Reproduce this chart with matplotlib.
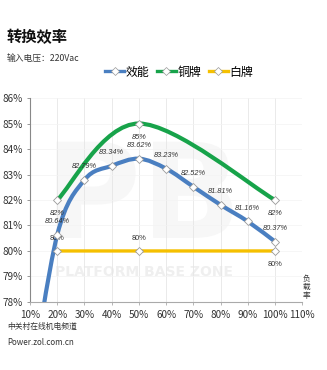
import numpy as np
import matplotlib
matplotlib.use("Agg")
import matplotlib.pyplot as plt
from matplotlib.path import Path
from matplotlib.patches import PathPatch
from matplotlib.lines import Line2D
from matplotlib.textpath import TextPath
from matplotlib.font_manager import FontProperties
from matplotlib.transforms import Affine2D

plt.rcParams["font.family"] = ["Noto Sans CJK SC", "DejaVu Sans"]

# data
load_eff = [10, 20, 30, 40, 50, 60, 70, 80, 90, 100]
eff = [74.5, 80.64, 82.79, 83.34, 83.62, 83.23, 82.52, 81.81, 81.16, 80.37]
load_std = [20, 50, 100]
bronze = [82, 85, 82]
white = [80, 80, 80]
series_names = ["效能", "铜牌", "白牌"]
x_ticks = [10, 20, 30, 40, 50, 60, 70, 80, 90, 100, 110]
y_ticks = [78, 79, 80, 81, 82, 83, 84, 85, 86]

BLUE, GREEN, YELLOW = "#4a7fc1", "#17a34a", "#f5c000"


def smooth_path(xs, ys):
    # Excel-like smoothed line: Catmull-Rom as cubic Bezier
    p = np.column_stack([xs, ys]).astype(float)
    verts, codes = [p[0]], [Path.MOVETO]
    n = len(p)
    for i in range(n - 1):
        p0 = p[max(i - 1, 0)]
        p1, p2 = p[i], p[i + 1]
        p3 = p[min(i + 2, n - 1)]
        verts += [p1 + (p2 - p0) / 6, p2 - (p3 - p1) / 6, p2]
        codes += [Path.CURVE4] * 3
    return Path(verts, codes)


fig = plt.figure(figsize=(3.27, 3.70), dpi=100)
ax = fig.add_axes([0.092, 0.184, 0.832, 0.551])

# faint logo watermark (drawn as a shape, not as text)
logo = TextPath((0, 0), "PB", size=95, prop=FontProperties(family="DejaVu Sans", weight="bold"))
ext = logo.get_extents()
px, py = ax.transAxes.transform((0.42, 0.55))
ax.add_patch(PathPatch(logo, facecolor="#f7f7f7", edgecolor="none", zorder=0,
                       transform=Affine2D().translate(-ext.x0 - ext.width / 2,
                                                      -ext.y0 - ext.height / 2)
                       .scale(fig.dpi / 72).translate(px, py)))
ax.text(0.42, 0.145, "PLATFORM BASE ZONE", transform=ax.transAxes, fontsize=10,
        fontweight="bold", color="#efefef", ha="center", va="center", zorder=0,
        family="DejaVu Sans")

for xs, ys, c, lw in [(load_std, white, YELLOW, 2.4), (load_eff, eff, BLUE, 3.0),
                      (load_std, bronze, GREEN, 3.0)]:
    ax.add_patch(PathPatch(smooth_path(xs, ys), fill=False, edgecolor=c, lw=lw,
                           capstyle="butt", zorder=3))
    ax.plot(xs, ys, ls="none", marker="D", ms=4.2, mfc="white", mec="#999999",
            mew=0.6, zorder=4)

lab = dict(fontsize=5.3, style="italic", family="Liberation Sans", color="#333333",
           ha="center", va="center", textcoords="offset points")
for x, y in zip(load_eff[1:], eff[1:]):
    ax.annotate(f"{y:.2f}%", (x, y), xytext=(0, 9.5), **lab)
for x, y in zip(load_std, bronze):
    ax.annotate(f"{y:g}%", (x, y), xytext=(0, -10), **lab)
for x, y in zip(load_std, white):
    off = -10 if x == 100 else 9
    ax.annotate(f"{y:g}%", (x, y), xytext=(0, off), **{**lab, "style": "normal"})

ax.set_xlim(10, 110)
ax.set_ylim(78, 86)
ax.set_xticks(x_ticks)
ax.set_xticklabels([f"{v}%" for v in x_ticks])
ax.set_yticks(y_ticks)
ax.set_yticklabels([f"{v}%" for v in y_ticks])
ax.tick_params(labelsize=7.2, colors="#333333", length=2.5, width=0.6, pad=3)
ax.tick_params(axis="x", color="#aaaaaa")
ax.tick_params(axis="y", color="#888888")
ax.grid(axis="x", color="#e6e6e6", lw=0.6)
ax.grid(axis="y", color="#f3f3f3", lw=0.5)
ax.set_axisbelow(True)
for s in ["top", "right"]:
    ax.spines[s].set_visible(False)
ax.spines["left"].set_color("#888888")
ax.spines["bottom"].set_color("#aaaaaa")
ax.spines["left"].set_linewidth(0.8)
ax.spines["bottom"].set_linewidth(0.8)

# vertical axis title, one character per line
for k, ch in enumerate("负载率"):
    ax.text(1.015, 0.115 - k * 0.042, ch, transform=ax.transAxes, fontsize=5.5,
            ha="center", va="center", color="#333333")

fig.text(0.021, 0.899, "转换效率", fontsize=11, fontweight="bold", va="center",
         color="#111111")
fig.text(0.021, 0.841, "输入电压：220Vac", fontsize=6.3, style="italic",
         va="center", color="#333333")
fig.text(0.021, 0.118, "中关村在线机电频道", fontsize=5.6, va="center", color="#333333")
fig.text(0.021, 0.075, "Power.zol.com.cn", fontsize=5.8, va="center", color="#333333")

handles = [Line2D([], [], color=c, lw=2.4, marker="D", ms=3.6, mfc="white",
                  mec="#999999", mew=0.5) for c in (BLUE, GREEN, YELLOW)]
fig.legend(handles, series_names, loc="center", bbox_to_anchor=(0.548, 0.805),
           ncol=3, frameon=False, fontsize=8.6, handlelength=1.6,
           handletextpad=0.15, columnspacing=0.6, borderpad=0)

fig.savefig("out.png", dpi=100, facecolor="white")
